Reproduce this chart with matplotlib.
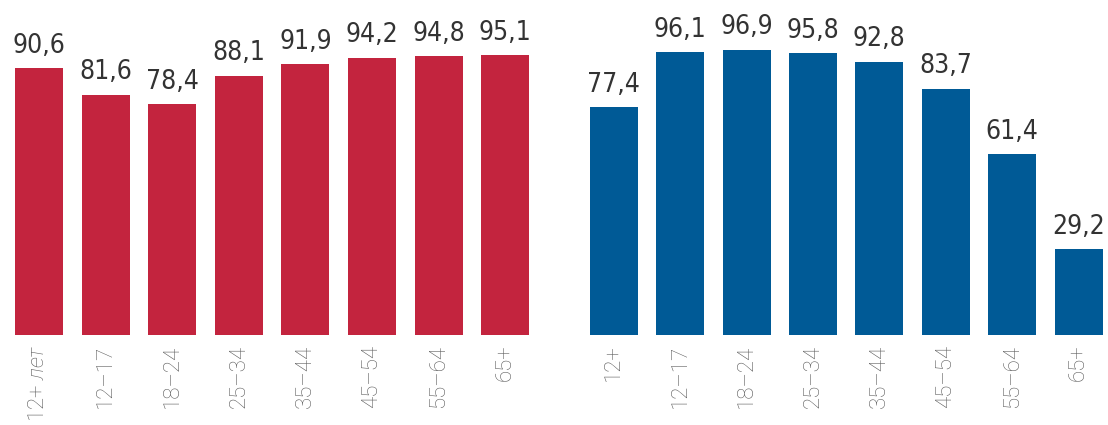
import matplotlib
matplotlib.use("Agg")
import matplotlib.pyplot as plt

ages_left = ["12+ $\\mathit{лет}$", "12–17", "18–24", "25–34", "35–44", "45–54", "55–64", "65+"]
values_left = [90.6, 81.6, 78.4, 88.1, 91.9, 94.2, 94.8, 95.1]

ages_right = ["12+", "12–17", "18–24", "25–34", "35–44", "45–54", "55–64", "65+"]
values_right = [77.4, 96.1, 96.9, 95.8, 92.8, 83.7, 61.4, 29.2]

RED = "#c3243e"
BLUE = "#005a96"
TEXT = "#333333"
TICK = "#5e5e5e"

plt.rcParams["mathtext.fontset"] = "custom"
plt.rcParams["mathtext.rm"] = "Roboto:light"
plt.rcParams["mathtext.it"] = "Roboto:italic:light"

W, H = 1108, 425
fig = plt.figure(figsize=(W / 100, H / 100), dpi=100)
fig.patch.set_facecolor("white")

base_px = 335  # bar baseline, pixels from top
px_per_unit = 2.945


def panel(x_first_center, step, values, labels, color):
    left = x_first_center - step / 2
    width = step * len(values)
    ax = fig.add_axes([left / W, (H - base_px) / H, width / W, 100 * px_per_unit / H])
    xs = list(range(len(values)))
    ax.bar(xs, values, width=48 / step, color=color)
    ax.set_xlim(-0.5, len(values) - 0.5)
    ax.set_ylim(0, 100)
    for x, v in zip(xs, values):
        ax.annotate(f"{v:.1f}".replace(".", ","), (x, v), xytext=(0, 11),
                    textcoords="offset points", ha="center", va="baseline",
                    fontsize=19, color=TEXT, family="DejaVu Sans", fontstretch="condensed")
    ax.set_xticks(xs)
    ax.set_xticklabels(labels, rotation=90, va="top", ha="center",
                       fontsize=16, color=TICK, family="Roboto", fontweight="light")
    ax.tick_params(axis="x", length=0, pad=7)
    ax.set_yticks([])
    for s in ax.spines.values():
        s.set_visible(False)
    ax.patch.set_alpha(0)
    return ax


panel(39, 66.6, values_left, ages_left, RED)
panel(613.7, 66.4, values_right, ages_right, BLUE)

fig.savefig("out.png", dpi=100)
